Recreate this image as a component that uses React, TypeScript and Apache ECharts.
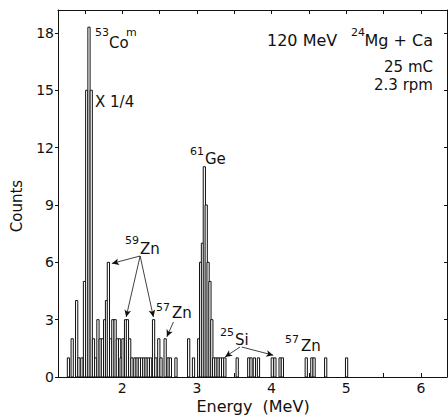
import React, { useEffect, useRef } from "react";
import * as echarts from "echarts";

// Histogram bins: centre energy (MeV) and displayed counts
const binCenters = [
  1.28, 1.33, 1.39, 1.42, 1.46,
  1.495, 1.525, 1.555, 1.585, 1.615,
  1.645, 1.675, 1.705, 1.735, 1.765, 1.79, 1.815, 1.845, 1.875, 1.905, 1.935, 1.965, 1.985,
  2.01, 2.045, 2.07, 2.10, 2.13, 2.17, 2.20, 2.23, 2.26, 2.29, 2.32, 2.35, 2.38,
  2.42, 2.45, 2.49, 2.52, 2.575, 2.615, 2.645, 2.72, 2.89, 2.955,
  3.025, 3.05, 3.075, 3.10, 3.125, 3.15, 3.175, 3.20, 3.225,
  3.255, 3.285, 3.315, 3.345, 3.375, 3.54, 3.695, 3.725, 3.77, 3.825,
  4.01, 4.045, 4.115, 4.145, 4.465, 4.54, 4.57, 4.725, 5.005,
];
const counts = [
  1, 2, 4, 1, 1,
  5, 15, 18.3, 15, 2,
  1, 3, 2, 2, 3, 4, 6, 2, 3, 3, 2, 2, 1,
  2, 3, 3, 2, 1, 1, 1, 1, 1, 1, 1, 1, 1,
  3, 1, 2, 1, 2, 1, 1, 1, 2, 1,
  2, 6, 7, 11, 9, 6, 5, 3, 1,
  1, 1, 1, 1, 1, 1, 1, 1, 1, 1,
  1, 1, 1, 1, 1, 1, 1, 1, 1,
];
const BIN_WIDTH = 0.03;

const xTickValues = [1.5, 2, 2.5, 3, 3.5, 4, 4.5, 5, 5.5, 6];
const xLabelValues = [2, 3, 4, 5, 6];
const yTickValues = [0, 3, 6, 9, 12, 15, 18];

// Annotation arrows (data coordinates): start energy/count -> end energy/count
const arrowStartE = [2.24, 2.24, 2.24, 2.686, 3.578, 3.6];
const arrowStartC = [6.33, 6.33, 6.33, 2.88, 1.57, 1.57];
const arrowEndE = [1.862, 2.053, 2.418, 2.598, 3.377, 4.023];
const arrowEndC = [5.94, 3.14, 3.14, 2.1, 1.05, 1.14];

const FONT = "DejaVu Sans";
const INK = "#111";

function txt(text: string, x: number, y: number, size: number, align = "left") {
  return {
    type: "text",
    x,
    y,
    style: { text, fontSize: size, fontFamily: FONT, fill: INK, align, verticalAlign: "middle" },
    silent: true,
  };
}

export default function App() {
  const ref = useRef<HTMLDivElement>(null);
  useEffect(() => {
    if (!ref.current) return;
    const chart = echarts.init(ref.current, null, { renderer: "svg" });
    const xMin = 1.14, xMax = 6.35, yMin = 0, yMax = 19.2;
    const axisCommon = {
      type: "value",
      axisLine: { show: true, onZero: false, lineStyle: { color: INK, width: 1 } },
      splitLine: { show: false },
    };
    chart.setOption({
      animation: false,
      grid: { left: 58, right: 1, top: 10, bottom: 40 },
      xAxis: [
        {
          ...axisCommon, position: "bottom", min: xMin, max: xMax,
          axisTick: { show: true, inside: true, length: 4, customValues: xTickValues, lineStyle: { color: INK } },
          axisLabel: { show: true, customValues: xLabelValues, fontSize: 14, color: INK, fontFamily: FONT, margin: 4 },
        },
        {
          ...axisCommon, position: "top", min: xMin, max: xMax,
          axisTick: { show: true, inside: true, length: 4, customValues: xTickValues, lineStyle: { color: INK } },
          axisLabel: { show: false },
        },
      ],
      yAxis: [
        {
          ...axisCommon, position: "left", min: yMin, max: yMax,
          axisTick: { show: true, inside: false, length: 3, customValues: yTickValues, lineStyle: { color: INK } },
          axisLabel: { show: true, customValues: yTickValues, fontSize: 14, color: INK, fontFamily: FONT, margin: 4 },
        },
        {
          ...axisCommon, position: "right", min: yMin, max: yMax,
          axisTick: { show: true, inside: true, length: 3, customValues: yTickValues, lineStyle: { color: INK } },
          axisLabel: { show: false },
        },
      ],
      series: [
        {
          type: "custom",
          xAxisIndex: 0,
          yAxisIndex: 0,
          data: binCenters.map((e, i) => [e, counts[i]]),
          encode: { x: 0, y: 1 },
          renderItem: (params: any, api: any) => {
            const c = api.value(0);
            const v = api.value(1);
            const p0 = api.coord([c - BIN_WIDTH / 2, 0]);
            const p1 = api.coord([c + BIN_WIDTH / 2, v]);
            return {
              type: "rect",
              shape: { x: p0[0], y: p1[1], width: p1[0] - p0[0], height: p0[1] - p1[1] },
              style: { fill: "#fff", stroke: INK, lineWidth: 1 },
            };
          },
          markLine: {
            silent: true,
            symbol: ["none", "arrow"],
            symbolSize: [5, 7],
            label: { show: false },
            lineStyle: { color: INK, width: 0.8, type: "solid" },
            data: arrowStartE.map((s, i) => [
              { coord: [s, arrowStartC[i]] },
              { coord: [arrowEndE[i], arrowEndC[i]] },
            ]),
          },
        },
      ],
      graphic: [
        txt("53", 95, 32.5, 11),
        txt("Co", 109, 42.5, 15),
        txt("m", 126, 32, 11),
        txt("X 1/4", 95, 102, 15),
        txt("120 MeV", 267, 40, 16),
        txt("24", 351, 32, 11),
        txt("Mg + Ca", 433, 40, 16, "right"),
        txt("25 mC", 433, 66.5, 15, "right"),
        txt("2.3 rpm", 433, 85, 15, "right"),
        txt("61", 190, 151, 11),
        txt("Ge", 205, 159, 15),
        txt("59", 125, 240, 11),
        txt("Zn", 140, 249, 15),
        txt("57", 156, 307, 11),
        txt("Zn", 172, 313, 15),
        txt("25", 220, 332.5, 11),
        txt("Si", 235, 340, 15),
        txt("57", 285, 339, 11),
        txt("Zn", 301, 346, 15),
        {
          type: "text", x: 17, y: 206, rotation: Math.PI / 2,
          style: { text: "Counts", fontSize: 15, fontFamily: FONT, fill: INK, align: "center", verticalAlign: "middle" },
          silent: true,
        },
        {
          type: "text", x: 253, y: 406,
          style: { text: "Energy  (MeV)", fontSize: 16, fontFamily: FONT, fill: INK, align: "center", verticalAlign: "middle" },
          silent: true,
        },
      ],
    });
    return () => chart.dispose();
  }, []);
  return <div ref={ref} style={{ position: "absolute", left: 0, top: 0, width: 448, height: 417 }} />;
}
